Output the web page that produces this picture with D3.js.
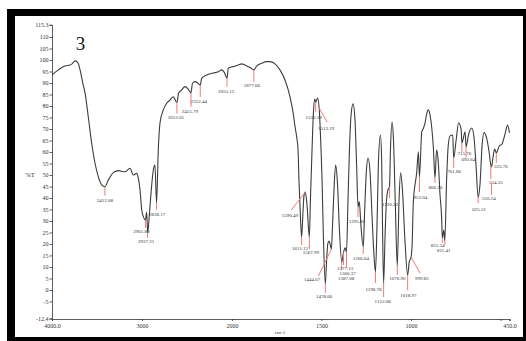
<!DOCTYPE html>
<html>
<head>
<meta charset="utf-8">
<script src="https://cdn.jsdelivr.net/npm/d3@7"></script>
<style>
  body { margin: 0; background: #fff; }
  svg { display: block; }
  .axis text { font-family: "Liberation Serif", serif; font-size: 6px; fill: #333; }
  .axis path, .axis line { stroke: #333; stroke-width: 0.8; }
  .peak text { font-family: "Liberation Serif", serif; font-size: 5px; fill: #333; }
</style>
</head>
<body>
<div id="chart"></div>
<script>
// spectrum, wavenumber (cm-1) and %T
let wavenumber = [4000, 3930, 3856, 3800, 3778, 3744, 3711, 3678, 3656, 3633, 3597, 3559, 3522, 3486, 3448, 3412.08,
  3374, 3319, 3263, 3189, 3133, 3097, 3059, 3041, 3022, 3003, 2983, 2961.80, 2948, 2937.21, 2917, 2892, 2874, 2856,
  2838.17, 2819, 2800, 2763, 2726, 2689, 2652, 2612.05, 2594, 2559, 2522, 2486, 2455.79, 2439, 2411, 2383, 2352.44,
  2337, 2281, 2226, 2189, 2152, 2114, 2089, 2055.12, 2041, 2000, 1993, 1965, 1946, 1927, 1909, 1894, 1877.66, 1862,
  1834, 1806, 1788, 1760, 1732, 1704, 1676, 1658, 1648, 1639, 1631, 1626, 1617, 1611.12, 1603, 1598, 1590.49, 1581,
  1567.99, 1562, 1553, 1545, 1538, 1532.39, 1522, 1513.19, 1507, 1497, 1489, 1478.66, 1472, 1465, 1458, 1451, 1444.67,
  1439, 1430, 1421, 1411, 1400, 1387.08, 1377.13, 1368, 1360.37, 1352, 1344, 1335, 1324, 1313, 1304, 1295.80, 1289,
  1280, 1266.64, 1260, 1249, 1240, 1229, 1218, 1207, 1198.78, 1190, 1182, 1171, 1164, 1159, 1153.08, 1145, 1137, 1129,
  1120.22, 1115, 1106, 1098, 1089, 1076.90, 1067, 1058, 1048, 1034, 1018.97, 1010, 999.85, 994, 987, 968, 959, 953.04,
  940, 931, 922, 912, 903, 894, 884, 875, 866.30, 857, 848, 838, 829, 825.34, 817, 811.41, 801, 792, 782, 767, 761.86,
  748, 734, 720, 715.76, 698, 692.64, 679, 661, 648, 637, 625.31, 615, 603, 592, 578, 564, 554.35, 550.24, 541, 533,
  523.76, 507, 492, 475, 461, 450]
let transmittance = [93.5, 95.7, 97.4, 97.8, 98.3, 99.6, 98.7, 93.9, 89.6, 85.7, 75.3, 63.8, 55.1, 49.3, 45.7, 44.9,
  47.8, 51.0, 51.9, 51.4, 52.9, 50.0, 50.7, 48.6, 43.5, 34.8, 31.7, 30.4, 33.9, 24.8, 33.5, 45.7, 52.2, 54.3,
  37.8, 60.9, 72.6, 78.3, 81.2, 82.6, 84.0, 81.5, 85.5, 87.0, 88.4, 87.3, 85.7, 89.9, 90.6, 90.1, 89.1,
  92.0, 93.5, 94.2, 94.5, 94.9, 95.7, 94.8, 92.2, 96.4, 97.0, 97.1, 97.8, 98.3, 97.8, 97.1, 96.5, 95.7, 97.4,
  98.6, 99.3, 99.3, 98.3, 95.7, 91.3, 84.0, 76.8, 71.0, 66.7, 60.9, 47.8, 30.4, 23.0, 34.8, 40.9, 42.6, 37.0,
  23.0, 39.1, 60.9, 77.4, 83.0, 81.7, 83.5, 79.1, 69.6, 47.8, 21.7, 2.6, 12.2, 20.0, 21.3, 19.6, 17.8,
  27.0, 44.3, 54.3, 46.5, 26.1, 12.2, 16.3, 18.3, 16.5, 39.1, 60.9, 76.1, 80.9, 73.9, 54.3, 36.1, 38.5,
  28.3, 18.7, 32.6, 52.2, 57.4, 51.3, 32.6, 15.2, 7.8, 28.3, 55.7, 67.4, 56.5, 26.1, 3.0, 23.9, 39.1, 43.5,
  44.8, 60.9, 73.0, 65.2, 41.3, 10.4, 39.1, 50.9, 43.5, 21.7, 6.5, 12.2, 14.3, 19.6, 38.4, 51.4, 60.1, 49.1,
  68.8, 70.3, 72.5, 76.8, 78.3, 76.1, 70.3, 61.6, 48.7, 60.9, 55.8, 41.3, 31.3, 22.6, 26.1, 21.3, 48.7, 63.0, 67.0, 67.4, 57.4,
  65.2, 72.7, 69.6, 63.9, 68.8, 62.3, 67.4, 70.4, 66.1, 54.3, 40.4, 45.7, 63.0, 68.4, 66.1, 60.0, 54.3, 53.5, 58.3, 61.3,
  59.6, 62.6, 63.5, 67.8, 71.7, 68.3]

// picked peaks
let peakWavenumber = [3412.08, 2961.80, 2937.21, 2838.17, 2612.05, 2455.79, 2352.44, 2055.12, 1877.66, 1611.12,
  1590.49, 1567.99, 1532.39, 1513.19, 1478.66, 1444.67, 1387.08, 1377.13, 1360.37, 1295.80, 1266.64, 1198.78,
  1153.08, 1120.22, 1076.90, 1018.97, 999.85, 953.04, 866.30, 825.34, 811.41, 761.86, 715.76, 692.64, 625.31,
  554.35, 550.24, 523.76]

// axis ticks
let yTicks = [115.3, 110, 105, 100, 95, 90, 85, 80, 75, 70, 65, 60, 55, 50, 45, 40, 35, 30, 25, 20, 15, 10, 5, 0, -5, -12.4]
let xTicks = [4000, 3000, 2000, 1500, 1000, 500, 450]
let xTickText = {4000: "4000.0", 3000: "3000", 2000: "2000", 1500: "1500", 1000: "1000", 500: "", 450: "450.0"}

// leader line / label offsets from the peak point: [x0, y0, x1, y1, textX, textY]
let leaders = [[0,0,0,9,0,15], [0,0,0,8,-4,13], [0,0,0,5,-1.5,10.5], [0,0,0,7,0.5,13], [0,0,0,11,-1,16],
  [0,0,0,14,-1,20.5], [0,0,0,12,-1.5,17.7], [0,0,0,9,-1,14.7], [0,0,0,12,-2,17], [0,0,0,8,-1.5,12.7],
  [0,0,-14,18,-15.5,25], [0,0,0,12,1.5,17], [0,0,0,10,-2,17], [0,0,8,14,7,21.7], [0,0,0,9,-1.3,14],
  [0,0,-13,27,-19.4,32], [0,0,0,8,4.3,18.3], [0,0,0,12.5,1.5,17.8], [0,0,0,16,1,23.3], [0,0,0,10,-1.2,15.7],
  [0,0,0,7,-2.4,13], [0,0,0,11,-2,19], [0,0,0,14,-1,20], [0,0,0,11,0.5,19], [0,0,0,9,0,14.3],
  [0,0,0,15,0.7,22], [0,0,9,16,10.7,23.3], [0,0,0,15,1,22], [0,0,0,5,0.3,11], [0,0,0,5,-4.6,9],
  [0,0,0,4,-1,11], [0,0,0,10,0.4,14.7], [0,0,0,9,2.4,12.3], [0,0,0,11,2.4,14.8], [0,0,0,6,1,14],
  [0,0,0,14,5,18.7], [0,16,0,28,-2.7,33], [0,0,0,10,4.6,15]]

let W = 526, H = 341

let svg = d3.select("#chart").append("svg")
  .attr("width", W)
  .attr("height", H)

// black frame
svg.append("rect").attr("x", 7).attr("y", 9).attr("width", W - 7).attr("height", H - 9).attr("fill", "#000")
svg.append("rect").attr("x", 15).attr("y", 16).attr("width", 508).attr("height", 321).attr("fill", "#fff")

// x is compressed above 2000 cm-1
let x = d3.scaleLinear()
  .domain([4000, 2000, 450])
  .range([52, 232, 509.5])

let y = d3.scaleLinear()
  .domain([-12.4, 115.3])
  .range([318.5, 24.8])

svg.append("g")
  .attr("class", "axis")
  .attr("transform", "translate(52,0)")
  .call(d3.axisLeft(y).tickValues(yTicks).tickSize(2.5).tickPadding(1)
    .tickFormat(d => (d == 115.3 || d == -12.4) ? d.toFixed(1) : d))

svg.append("g")
  .attr("class", "axis")
  .attr("transform", "translate(0,319)")
  .call(d3.axisBottom(x).tickValues(xTicks).tickSize(2).tickPadding(3)
    .tickFormat(d => xTickText[d]))

svg.selectAll(".axis .domain").attr("stroke-width", 1)

// spectrum
let points = wavenumber.map((w, i) => [w, transmittance[i]])
let line = d3.line()
  .x(d => x(d[0]))
  .y(d => y(d[1]))
  .curve(d3.curveMonotoneX)

svg.append("path")
  .datum(points)
  .attr("fill", "none")
  .attr("stroke", "#3c3c3c")
  .attr("stroke-width", 1.1)
  .attr("d", line)

// peak markers
let peaks = svg.append("g").attr("class", "peak")
peakWavenumber.forEach((w, i) => {
  let t = transmittance[wavenumber.indexOf(w)]
  let px = x(w), py = y(t)
  let l = leaders[i]
  peaks.append("line")
    .attr("x1", px + l[0]).attr("y1", py + l[1])
    .attr("x2", px + l[2]).attr("y2", py + l[3])
    .attr("stroke", "#f27a7a")
    .attr("stroke-width", 1)
  peaks.append("text")
    .attr("x", px + l[4])
    .attr("y", py + l[5])
    .attr("text-anchor", "middle")
    .text(w.toFixed(2))
})

// titles
svg.append("text")
  .attr("x", 80.5).attr("y", 50)
  .attr("text-anchor", "middle")
  .style("font-family", "Liberation Serif, serif")
  .style("font-size", "19px")
  .attr("fill", "#111")
  .text("3")

svg.append("text")
  .attr("x", 30).attr("y", 177)
  .attr("text-anchor", "middle")
  .style("font-family", "Liberation Serif, serif")
  .style("font-size", "6.5px")
  .attr("fill", "#333")
  .text("%T")

svg.append("text")
  .attr("x", 280).attr("y", 333.5)
  .attr("text-anchor", "middle")
  .style("font-family", "Liberation Serif, serif")
  .style("font-size", "5px")
  .attr("fill", "#333")
  .text("cm-1")
</script>
</body>
</html>
